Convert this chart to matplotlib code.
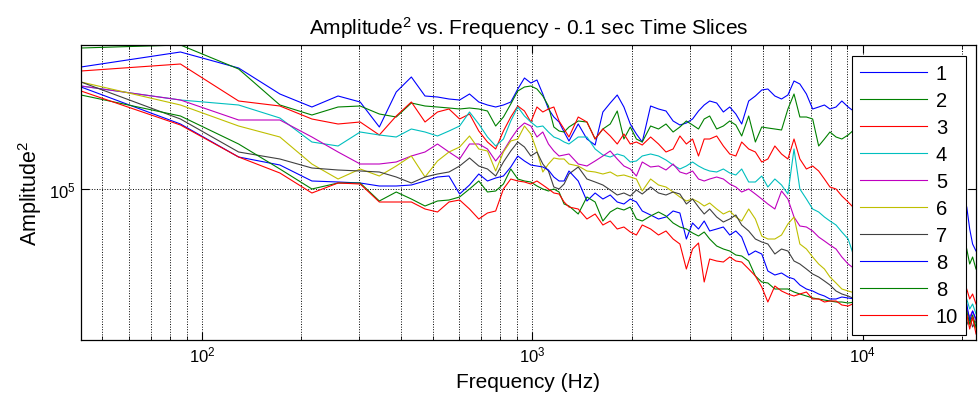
import numpy as np
import matplotlib
matplotlib.use('Agg')
import matplotlib.pyplot as plt
from matplotlib.ticker import LogLocator, NullLocator, NullFormatter

plt.rcParams['font.family'] = ['Liberation Sans', 'DejaVu Sans']
plt.rcParams['mathtext.default'] = 'regular'

# FFT bin numbers (bin width 44100/1024 Hz)
bins = [1, 2, 3, 4, 5, 6, 7, 8, 9, 10, 11, 12, 13, 14, 15, 16, 17, 18, 19, 20,
        21, 22, 23, 24, 25, 26, 27, 28, 29, 30, 32, 34, 36, 38, 40, 42, 44, 46, 48, 50,
        53, 56, 59, 62, 65, 68, 71, 74, 77, 80, 84, 88, 92, 96, 100,
        105, 110, 115, 120, 126, 132, 138, 144, 150, 157, 164, 171, 178, 185,
        193, 201, 210, 220, 240, 300, 400, 470, 480, 490, 500, 512]

# log10(Amplitude^2) for each 0.1 s slice
s1 = [5.610, 5.685, 5.605, 5.475, 5.410, 5.465, 5.435, 5.310, 5.485, 5.560, 5.465, 5.460, 5.450, 5.445, 5.475, 5.435, 5.420, 5.410, 5.420, 5.435,
      5.500, 5.555, 5.530, 5.545, 5.475, 5.400, 5.360, 5.335, 5.285, 5.240, 5.325, 5.250, 5.220, 5.385, 5.430, 5.470, 5.410, 5.325, 5.275, 5.235,
      5.415, 5.400, 5.390, 5.340, 5.320, 5.330, 5.350, 5.390, 5.420, 5.440, 5.430, 5.385, 5.410, 5.375, 5.325,
      5.440, 5.465, 5.495, 5.500, 5.465, 5.450, 5.470, 5.540, 5.525, 5.475, 5.400, 5.410, 5.420, 5.400,
      5.410, 5.440, 5.410, 5.385, 5.250, 5.100, 4.975, 4.950, 4.910, 4.800, 4.725, 4.690]
s2 = [5.705, 5.720, 5.600, 5.420, 5.370, 5.410, 5.415, 5.375, 5.360, 5.430, 5.415, 5.410, 5.405, 5.400, 5.405, 5.400, 5.390, 5.315, 5.360, 5.425,
      5.490, 5.510, 5.515, 5.500, 5.465, 5.415, 5.310, 5.290, 5.285, 5.310, 5.340, 5.335, 5.250, 5.300, 5.325, 5.390, 5.250, 5.310, 5.250, 5.235,
      5.315, 5.300, 5.325, 5.285, 5.310, 5.340, 5.320, 5.300, 5.350, 5.365, 5.300, 5.315, 5.340, 5.320, 5.265,
      5.365, 5.235, 5.310, 5.305, 5.300, 5.295, 5.400, 5.475, 5.360, 5.360, 5.350, 5.215, 5.250, 5.285,
      5.260, 5.250, 5.270, 5.300, 5.110, 5.000, 4.875, 4.750, 4.700, 4.625, 4.660, 4.600]
s3 = [5.590, 5.625, 5.440, 5.415, 5.350, 5.325, 5.335, 5.270, 5.365, 5.435, 5.335, 5.385, 5.400, 5.350, 5.375, 5.290, 5.235, 5.200, 5.290, 5.360,
      5.415, 5.390, 5.335, 5.410, 5.385, 5.400, 5.410, 5.340, 5.300, 5.260, 5.360, 5.335, 5.250, 5.300, 5.265, 5.225, 5.275, 5.225, 5.235, 5.220,
      5.260, 5.225, 5.185, 5.200, 5.265, 5.225, 5.250, 5.165, 5.250, 5.250, 5.265, 5.215, 5.175, 5.165, 5.235,
      5.200, 5.185, 5.135, 5.150, 5.215, 5.175, 5.150, 5.250, 5.150, 5.100, 5.115, 5.090, 5.050, 5.010,
      5.000, 4.965, 4.935, 4.900, 4.825, 4.700, 4.575, 4.525, 4.500, 4.450, 4.475, 4.425]
s4 = [5.515, 5.445, 5.420, 5.355, 5.235, 5.215, 5.285, 5.270, 5.260, 5.300, 5.285, 5.265, 5.290, 5.315, 5.385, 5.325, 5.260, 5.215, 5.250, 5.340,
      5.410, 5.365, 5.335, 5.310, 5.315, 5.285, 5.260, 5.250, 5.235, 5.225, 5.260, 5.260, 5.200, 5.170, 5.160, 5.175, 5.165, 5.135, 5.140, 5.165,
      5.175, 5.165, 5.145, 5.120, 5.100, 5.115, 5.135, 5.115, 5.100, 5.090, 5.085, 5.100, 5.080, 5.070, 5.100,
      5.035, 5.035, 5.065, 5.010, 5.050, 5.020, 4.975, 5.200, 5.000, 4.950, 4.900, 4.885, 4.860, 4.840,
      4.820, 4.785, 4.750, 4.650, 4.575, 4.500, 4.450, 4.425, 4.450, 4.400, 4.425, 4.375]
s5 = [5.515, 5.445, 5.345, 5.345, 5.260, 5.185, 5.125, 5.125, 5.135, 5.165, 5.185, 5.225, 5.185, 5.150, 5.225, 5.225, 5.200, 5.140, 5.190, 5.250,
      5.300, 5.330, 5.315, 5.260, 5.285, 5.225, 5.190, 5.165, 5.170, 5.175, 5.125, 5.115, 5.140, 5.165, 5.190, 5.150, 5.115, 5.100, 5.065, 5.135,
      5.110, 5.115, 5.095, 5.125, 5.085, 5.075, 5.090, 5.050, 5.040, 5.050, 5.060, 5.050, 5.025, 5.010, 4.985,
      5.000, 4.975, 4.950, 4.925, 4.900, 4.990, 4.950, 4.860, 4.815, 4.810, 4.790, 4.760, 4.740, 4.720,
      4.700, 4.660, 4.625, 4.600, 4.525, 4.450, 4.400, 4.390, 4.400, 4.360, 4.390, 4.340]
s6 = [5.535, 5.420, 5.315, 5.260, 5.125, 5.050, 5.100, 5.065, 5.115, 5.165, 5.060, 5.140, 5.185, 5.210, 5.265, 5.200, 5.190, 5.090, 5.185, 5.240,
      5.250, 5.315, 5.275, 5.190, 5.085, 5.125, 5.155, 5.150, 5.150, 5.125, 5.115, 5.090, 5.085, 5.075, 5.085, 5.065, 5.070, 5.060, 5.050, 4.990,
      5.050, 5.020, 5.010, 4.985, 4.960, 4.940, 4.950, 4.935, 4.915, 4.930, 4.900, 4.875, 4.890, 4.860, 4.840,
      4.900, 4.850, 4.765, 4.750, 4.750, 4.770, 4.825, 4.860, 4.725, 4.700, 4.660, 4.625, 4.600, 4.560,
      4.530, 4.500, 4.490, 4.480, 4.450, 4.400, 4.375, 4.350, 4.360, 4.320, 4.350, 4.300]
s7 = [5.535, 5.350, 5.185, 5.150, 5.105, 5.095, 5.090, 5.085, 5.060, 5.030, 5.060, 5.075, 5.085, 5.115, 5.155, 5.115, 5.100, 5.065, 5.135, 5.190,
      5.235, 5.210, 5.165, 5.185, 5.125, 5.090, 5.010, 5.000, 5.025, 5.075, 5.110, 5.050, 5.035, 5.020, 4.995, 4.970, 4.980, 4.965, 4.995, 4.975,
      5.010, 4.980, 4.970, 4.985, 4.975, 4.925, 4.950, 4.910, 4.875, 4.900, 4.860, 4.835, 4.850, 4.870, 4.820,
      4.790, 4.750, 4.735, 4.725, 4.675, 4.700, 4.690, 4.640, 4.625, 4.600, 4.575, 4.560, 4.540, 4.520,
      4.490, 4.475, 4.465, 4.450, 4.425, 4.390, 4.360, 4.340, 4.320, 4.360, 4.310, 4.340]
s8 = [5.510, 5.325, 5.160, 5.120, 5.040, 5.035, 5.030, 5.015, 5.015, 5.020, 5.040, 5.060, 5.065, 4.975, 5.020, 5.075, 5.040, 5.055, 5.065, 5.110,
      5.165, 5.140, 5.120, 5.115, 5.110, 5.095, 5.060, 5.040, 5.040, 5.090, 5.040, 4.940, 4.980, 4.950, 4.970, 4.935, 4.925, 4.950, 4.935, 4.890,
      4.870, 4.850, 4.860, 4.890, 4.880, 4.750, 4.830, 4.800, 4.840, 4.790, 4.800, 4.810, 4.770, 4.790, 4.760,
      4.670, 4.690, 4.675, 4.590, 4.570, 4.580, 4.560, 4.550, 4.520, 4.500, 4.490, 4.475, 4.465, 4.450,
      4.450, 4.460, 4.455, 4.450, 4.425, 4.400, 4.375, 4.360, 4.425, 4.340, 4.390, 4.350]
s9 = [5.470, 5.365, 5.225, 5.100, 5.000, 5.030, 5.030, 4.940, 4.985, 4.950, 4.915, 4.940, 4.945, 4.960, 5.000, 5.040, 4.985, 4.990, 5.025, 5.100,
      5.050, 5.040, 5.035, 5.015, 5.000, 4.990, 5.000, 4.985, 4.925, 4.915, 4.875, 4.960, 4.935, 4.840, 4.885, 4.905, 4.895, 4.910, 4.850, 4.840,
      4.865, 4.885, 4.865, 4.830, 4.810, 4.800, 4.780, 4.765, 4.785, 4.750, 4.715, 4.700, 4.690, 4.670, 4.665,
      4.640, 4.565, 4.535, 4.530, 4.500, 4.500, 4.500, 4.485, 4.475, 4.465, 4.455, 4.450, 4.445, 4.440,
      4.435, 4.435, 4.430, 4.435, 4.425, 4.400, 4.370, 4.360, 4.390, 4.325, 4.370, 4.310]
s10 = [5.490, 5.320, 5.160, 5.080, 4.980, 5.030, 5.025, 4.935, 4.935, 4.935, 4.900, 4.885, 4.935, 4.945, 4.900, 4.850, 4.880, 4.890, 5.000, 5.050,
       5.040, 5.035, 5.025, 5.040, 5.020, 5.000, 4.980, 4.975, 4.935, 4.910, 4.900, 4.850, 4.875, 4.820, 4.840, 4.800, 4.810, 4.785, 4.770, 4.820,
       4.800, 4.770, 4.790, 4.750, 4.725, 4.600, 4.700, 4.730, 4.535, 4.650, 4.640, 4.635, 4.660, 4.640, 4.635,
       4.600, 4.565, 4.510, 4.435, 4.515, 4.490, 4.475, 4.465, 4.475, 4.485, 4.450, 4.450, 4.435, 4.440,
       4.440, 4.420, 4.415, 4.430, 4.410, 4.380, 4.360, 4.350, 4.375, 4.300, 4.360, 4.275]

labels = ['1', '2', '3', '4', '5', '6', '7', '8', '8', '10']
colors = ['#0000ff', '#008000', '#ff0000', '#00bfbf', '#bf00bf',
          '#bfbf00', '#404040', '#0000ff', '#008000', '#ff0000']

freq = np.array(bins) * 44100 / 1024
series = [s1, s2, s3, s4, s5, s6, s7, s8, s9, s10]

fig = plt.figure(figsize=(9.79, 4.06), dpi=100)
ax = fig.add_axes([81 / 979, 65 / 406, 895 / 979, 295 / 406])

for s, lab, c in zip(series, labels, colors):
    ax.plot(freq, 10 ** np.array(s), color=c, lw=0.8, label=lab)

ax.set_xscale('log')
ax.set_yscale('log')
ax.set_xlim(44100 / 1024, 22050)
ax.set_ylim(10 ** 4.245, 10 ** 5.72)
ax.yaxis.set_minor_locator(NullLocator())
ax.xaxis.set_minor_locator(LogLocator(base=10, subs=np.arange(2, 10)))
ax.xaxis.set_minor_formatter(NullFormatter())

ax.grid(True, which='both', axis='x', linestyle=':', color='k', lw=0.7)
ax.grid(True, which='major', axis='y', linestyle=':', color='k', lw=0.7)
ax.tick_params(which='both', direction='in', top=True, right=True, labelsize=12)
ax.tick_params(which='major', length=6)
ax.tick_params(which='minor', length=3)
for sp in ax.spines.values():
    sp.set_linewidth(0.9)

ax.set_title('Amplitude$^2$ vs. Frequency - 0.1 sec Time Slices', fontsize=15, pad=8)
ax.set_xlabel('Frequency (Hz)', fontsize=15, labelpad=5)
ax.set_ylabel('Amplitude$^2$', fontsize=15.5)

leg = ax.legend(loc='upper right', bbox_to_anchor=(0.989, 0.963), borderaxespad=0,
                fontsize=14.5, fancybox=False, framealpha=1, edgecolor='k',
                handlelength=3.3, handletextpad=0.45, labelspacing=0.4,
                borderpad=0.4)
leg.get_frame().set_linewidth(0.8)

fig.savefig('out.png', dpi=100)
